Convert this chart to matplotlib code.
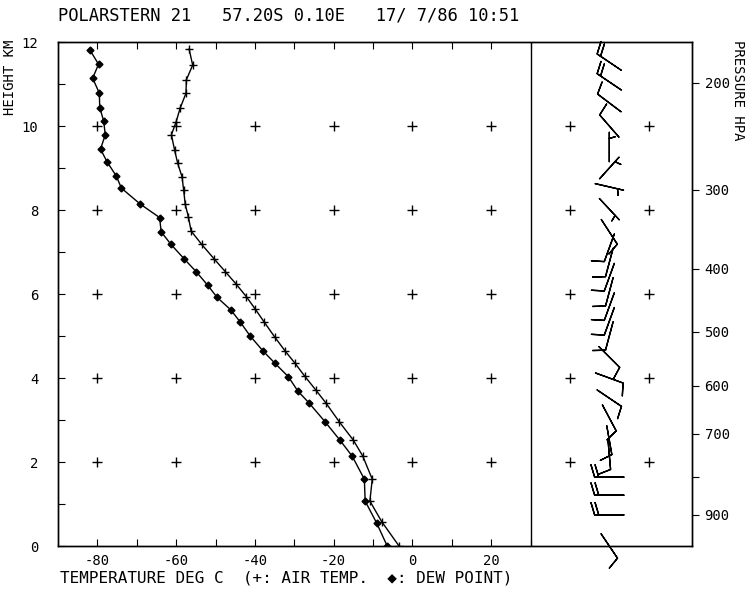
import numpy as np
import matplotlib.pyplot as plt

plt.rcParams['font.family'] = ['DejaVu Sans Mono']
plt.rcParams['axes.unicode_minus'] = False

# dew point profile
dew_h = [11.81, 11.47, 11.14, 10.78, 10.44, 10.12, 9.79, 9.45, 9.14, 8.81, 8.52,
         8.14, 7.82, 7.48, 7.18, 6.83, 6.53, 6.21, 5.92, 5.62, 5.33, 5.00, 4.65,
         4.35, 4.03, 3.69, 3.40, 2.96, 2.52, 2.14, 1.59, 1.07, 0.55, 0.0]
dew_t = [-81.9, -79.7, -81.2, -79.5, -79.4, -78.4, -78.0, -79.2, -77.5, -75.2, -73.9,
         -69.1, -64.2, -63.8, -61.3, -57.9, -54.9, -52.0, -49.6, -46.1, -43.7, -41.2, -38.0,
         -34.9, -31.5, -29.1, -26.2, -22.2, -18.4, -15.3, -12.2, -12.0, -9.1, -6.4]

# air temperature profile
air_h = [11.83, 11.45, 11.10, 10.78, 10.42, 10.10, 9.79, 9.43, 9.11, 8.79, 8.48,
         8.14, 7.84, 7.50, 7.18, 6.83, 6.53, 6.24, 5.94, 5.64, 5.34, 4.98, 4.64,
         4.35, 4.05, 3.71, 3.41, 2.96, 2.52, 2.14, 1.59, 1.07, 0.58, 0.0]
air_t = [-56.7, -55.8, -57.4, -57.5, -59.0, -60.0, -61.2, -60.4, -59.6, -58.5, -58.1,
         -57.7, -56.9, -56.2, -53.5, -50.3, -47.5, -44.8, -42.2, -39.9, -37.7, -35.0, -32.3,
         -29.8, -27.4, -24.5, -22.0, -18.6, -15.0, -12.6, -10.2, -10.8, -7.8, -3.4]

# pressure scale (hPa) and the height where each level sits
p_levels = [200, 300, 400, 500, 600, 700, 800, 900]
p_height = [11.03, 8.48, 6.60, 5.10, 3.81, 2.67, 1.65, 0.74]
p_shown = [200, 300, 400, 500, 600, 700, 900]

# winds: height (km), direction (deg), speed (kt)
wind_h = [11.52, 11.05, 10.55, 10.00, 9.50, 9.00, 8.55, 8.02, 7.48,
          7.10, 6.75, 6.40, 6.05, 5.70, 5.35, 5.00,
          4.50, 4.00, 3.52, 3.05, 2.52, 2.17, 1.64, 1.21, 0.74, 0.0]
wind_dir = [304, 304, 307, 319, 0, 42, 103, 137, 147,
            200, 195, 200, 195, 200, 200, 195,
            135, 110, 124, 152, 170, 175, 270, 270, 270, 146]
wind_spd = [20, 20, 10, 10, 5, 5, 5, 5, 10,
            10, 10, 10, 10, 10, 10, 10,
            10, 10, 10, 10, 10, 10, 20, 20, 20, 10]
wind_x = 50

grid_t = [-80, -60, -40, -20, 0, 20, 40, 60]
grid_h = [2, 4, 6, 8, 10]

fig = plt.figure(figsize=(7.46, 5.93), dpi=100)
ax = fig.add_axes([58/746, 47/593, 634/746, 504/593])
ax.set_xlim(-90, 71)
ax.set_ylim(0, 12)

ax.axvline(30, color='k', lw=1)

gx, gy = np.meshgrid(grid_t, grid_h)
ax.plot(gx.ravel(), gy.ravel(), '+', color='k', ms=7, mew=1)

ax.plot(air_t, air_h, '-', color='k', lw=1, marker='+', ms=6, mew=1)
ax.plot(dew_t, dew_h, '-', color='k', lw=1, marker='D', ms=3.5)

rad = np.radians(wind_dir)
u = -np.array(wind_spd) * np.sin(rad)
v = -np.array(wind_spd) * np.cos(rad)
ax.barbs(np.full(len(wind_h), wind_x), wind_h, u, v, length=6.5, pivot='middle',
         color='k', lw=1, sizes=dict(height=0.42, spacing=0.14), clip_on=False)

xt = np.arange(-80, 31, 10)
ax.set_xticks(xt)
ax.set_xticklabels([str(t) if t % 20 == 0 else '' for t in xt], fontsize=10)
ax.tick_params(axis='x', direction='in', length=5, top=True, pad=6)
ax.set_yticks(range(0, 13))
ax.set_yticklabels([str(h) if h % 2 == 0 else '' for h in range(0, 13)], fontsize=10)
ax.tick_params(axis='y', direction='in', length=5, pad=14)

ax2 = ax.twinx()
ax2.set_ylim(0, 12)
ax2.set_yticks(p_height)
ax2.set_yticklabels([str(p) if p in p_shown else '' for p in p_levels], fontsize=10)
ax2.tick_params(direction='out', length=5, pad=4)

for a in (ax, ax2):
    for s in a.spines.values():
        s.set_linewidth(1)

fig.text(58/746, 1 - 15/593, 'POLARSTERN 21   57.20S 0.10E   17/ 7/86 10:51',
         fontsize=12.3, ha='left', va='center')
fig.text(60/746, 1 - 578/593, 'TEMPERATURE DEG C  (+: AIR TEMP.  \u25c6: DEW POINT)',
         fontsize=11.5, ha='left', va='center')
fig.text(10/746, 1 - 40/593, 'HEIGHT KM', rotation=90, fontsize=10, ha='center', va='top')
fig.text(738/746, 1 - 40/593, 'PRESSURE HPA', rotation=270, fontsize=10, ha='center', va='top')

fig.savefig('out.png', dpi=100)
